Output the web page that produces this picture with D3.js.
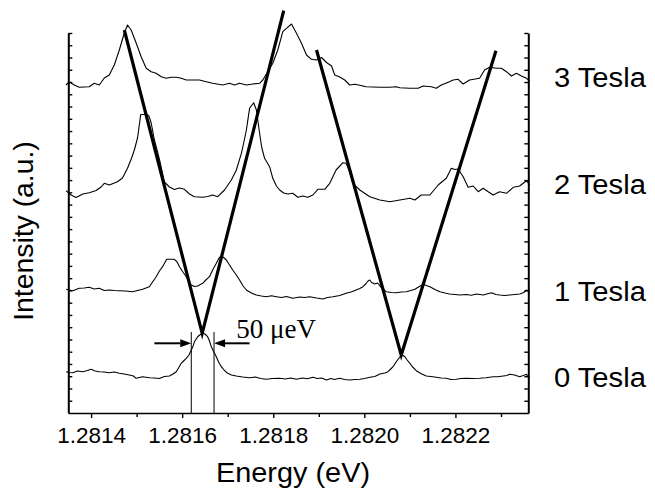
<!DOCTYPE html>
<html>
<head>
<meta charset="utf-8">
<script src="https://cdn.jsdelivr.net/npm/d3@7"></script>
<style>
  html, body { margin: 0; padding: 0; background: #fff; }
  svg { display: block; }
</style>
</head>
<body>
<svg id="chart" width="655" height="489"></svg>
<script>
// Photoluminescence spectra of a single dot at 0-3 T (energy in eV, intensity in a.u., curves stacked)
const fieldLabels = ["0 Tesla", "1 Tesla", "2 Tesla", "3 Tesla"];
const majorTicks = [1.2814, 1.2816, 1.2818, 1.2820, 1.2822];
const minorTicks = [1.2815, 1.2817, 1.2819, 1.2821, 1.2823];

const spectrum0T = [
  [1.281345,41.3],[1.281352,40.5],[1.281360,40.3],[1.281370,42],[1.281382,41.3],[1.281392,42.5],
  [1.281400,43.7],[1.281409,42],[1.281418,41.3],[1.281429,41],[1.281440,40.3],[1.281451,41],
  [1.281462,39.7],[1.281473,39],[1.281484,38],[1.281493,37],[1.281499,34.7],[1.281506,35.5],
  [1.281513,36.3],[1.281528,35.3],[1.281539,35],[1.281550,34.5],[1.281561,36.5],[1.281572,37],
  [1.281580,39],[1.281587,41.3],[1.281592,45],[1.281598,49.7],[1.281603,52],[1.281609,54.7],
  [1.281615,58],[1.281620,63],[1.281624,67],[1.281627,71.3],[1.281634,76.3],[1.281640,78.5],
  [1.281645,79.7],[1.281650,79],[1.281656,76.3],[1.281660,72],[1.281664,66.3],[1.281669,61.5],
  [1.281675,56.3],[1.281680,51],[1.281686,46.3],[1.281693,42.5],[1.281700,39.7],[1.281708,38],
  [1.281719,37],[1.281733,36],[1.281748,35.3],[1.281761,36],[1.281772,34.5],[1.281785,33.7],
  [1.281798,34.5],[1.281814,34.7],[1.281827,34],[1.281838,35],[1.281851,33.7],[1.281864,35],
  [1.281875,34.2],[1.281887,35.7],[1.281897,34.5],[1.281906,35],[1.281917,33],[1.281926,34.5],
  [1.281935,33.5],[1.281946,34.7],[1.281957,33.5],[1.281968,33],[1.281979,33.5],[1.281990,33.7],
  [1.282001,34.5],[1.282012,35.7],[1.282023,36.5],[1.282034,39],[1.282045,40],[1.282052,41.3],
  [1.282058,44],[1.282063,46.3],[1.282069,50.5],[1.282074,53.7],[1.282078,56],[1.282081,58],
  [1.282085,57.5],[1.282089,56.3],[1.282094,53],[1.282100,49.7],[1.282106,46],[1.282114,42.3],
  [1.282124,39.5],[1.282136,37],[1.282146,36.5],[1.282158,35.7],[1.282168,35],[1.282180,34.7],
  [1.282190,33.5],[1.282202,33.7],[1.282212,34.5],[1.282224,34.7],[1.282238,34.5],[1.282253,34.7],
  [1.282267,35.2],[1.282283,36.3],[1.282293,36.2],[1.282305,37],[1.282313,37.5],[1.282319,38.7],
  [1.282330,38],[1.282341,36.3],[1.282349,37.5],[1.282356,38.7],[1.282360,35.7],[1.282363,36.5]
];

const spectrum1T = [
  [1.281345,123.7],[1.281360,122.3],[1.281374,124.7],[1.281385,125],[1.281396,125.7],[1.281407,124],
  [1.281418,124.7],[1.281429,122.5],[1.281440,123],[1.281451,122.5],[1.281462,122.3],[1.281475,122],
  [1.281491,121.3],[1.281502,122.5],[1.281513,123.7],[1.281528,126.3],[1.281535,131],[1.281543,136.3],
  [1.281550,142],[1.281557,146.3],[1.281566,153.7],[1.281583,153.7],[1.281589,151],[1.281594,146.3],
  [1.281601,141.5],[1.281609,136.3],[1.281614,132],[1.281620,128],[1.281627,126.5],[1.281634,127],
  [1.281645,129.7],[1.281652,133],[1.281660,136.3],[1.281667,143],[1.281675,149.7],[1.281681,155],
  [1.281686,157],[1.281691,155.5],[1.281697,153],[1.281704,148],[1.281711,143],[1.281719,138],
  [1.281726,133],[1.281733,127.5],[1.281741,123],[1.281752,120],[1.281763,118],[1.281774,117],
  [1.281785,116.3],[1.281796,117.2],[1.281807,116.3],[1.281818,115.5],[1.281829,116.5],[1.281843,114.7],
  [1.281858,116],[1.281869,115.5],[1.281880,116.3],[1.281895,115],[1.281909,114],[1.281919,115.5],
  [1.281931,116.3],[1.281946,117.5],[1.281960,119.7],[1.281971,121],[1.281982,123],[1.281990,124.5],
  [1.281997,126.3],[1.282004,129.5],[1.282008,132],[1.282012,133],[1.282016,130.5],[1.282023,129],
  [1.282029,130],[1.282037,125.7],[1.282048,121.3],[1.282059,120.5],[1.282070,120.3],[1.282081,121],
  [1.282092,121.3],[1.282102,122.5],[1.282111,123.7],[1.282119,126],[1.282129,128.7],[1.282136,127.5],
  [1.282144,126.3],[1.282155,123.5],[1.282166,121.3],[1.282177,120],[1.282187,119],[1.282199,118.5],
  [1.282210,118],[1.282224,118.5],[1.282235,117.7],[1.282246,119],[1.282261,118],[1.282269,119],
  [1.282279,120.3],[1.282289,118.5],[1.282297,118],[1.282308,117.5],[1.282319,118],[1.282330,118.5],
  [1.282341,119],[1.282350,120.5],[1.282356,123],[1.282363,121.3]
];

const spectrum2T = [
  [1.281345,222.3],[1.281356,218],[1.281367,215.5],[1.281382,219],[1.281396,220.3],[1.281411,222.5],
  [1.281422,226],[1.281429,229.7],[1.281440,228],[1.281458,231.3],[1.281469,235],[1.281480,244.7],
  [1.281489,255],[1.281495,263],[1.281502,275],[1.281505,285],[1.281509,298.5],[1.281523,298.5],
  [1.281527,297],[1.281532,290],[1.281539,273],[1.281546,261],[1.281552,250],[1.281561,231],
  [1.281572,226],[1.281583,223.5],[1.281594,225],[1.281605,223.7],[1.281616,219],[1.281627,216.3],
  [1.281645,215.7],[1.281656,216.5],[1.281667,218],[1.281678,216.3],[1.281693,223],[1.281708,233],
  [1.281719,243],[1.281730,259.7],[1.281736,272],[1.281741,283],[1.281748,304.7],[1.281757,310.3],
  [1.281763,303],[1.281770,279.7],[1.281775,265],[1.281781,254.7],[1.281792,246.3],[1.281799,234.7],
  [1.281807,227],[1.281814,223],[1.281823,220],[1.281832,219],[1.281843,219.7],[1.281854,215.7],
  [1.281865,217],[1.281876,215.7],[1.281887,218],[1.281898,223.7],[1.281913,223.7],[1.281924,229.7],
  [1.281938,243],[1.281953,250.3],[1.281960,249.7],[1.281968,241],[1.281975,229.7],[1.281990,223],
  [1.282012,216.3],[1.282034,213],[1.282056,211.3],[1.282078,213],[1.282100,214.7],[1.282111,213],
  [1.282125,218],[1.282144,218],[1.282162,228],[1.282180,234.7],[1.282191,244.7],[1.282199,243.5],
  [1.282206,244],[1.282217,236.3],[1.282228,225.7],[1.282239,227],[1.282250,221.3],[1.282261,224.7],
  [1.282272,221.3],[1.282283,218],[1.282297,221.3],[1.282312,219.7],[1.282327,225.7],[1.282341,227],
  [1.282356,232.3],[1.282363,228]
];

const spectrum3T = [
  [1.281345,328],[1.281352,331.3],[1.281363,328],[1.281374,325.7],[1.281396,326.3],[1.281407,329.7],
  [1.281418,328],[1.281429,335],[1.281440,338],[1.281451,348],[1.281462,363],[1.281473,380],
  [1.281480,388],[1.281488,383],[1.281499,370],[1.281510,356.3],[1.281521,344.7],[1.281532,341.3],
  [1.281543,339.7],[1.281554,336.3],[1.281565,334.7],[1.281576,335.7],[1.281587,335.7],[1.281598,334.7],
  [1.281609,333],[1.281623,333],[1.281638,333],[1.281653,331.3],[1.281667,329.7],[1.281689,328],
  [1.281704,329.7],[1.281715,328],[1.281726,329.7],[1.281741,328],[1.281755,329],[1.281770,329.7],
  [1.281777,333],[1.281788,341.3],[1.281799,349.7],[1.281810,363],[1.281821,381.3],[1.281829,384.7],
  [1.281840,389],[1.281851,379.7],[1.281862,369.7],[1.281873,358],[1.281884,353.7],[1.281895,353],
  [1.281906,355.5],[1.281917,350.5],[1.281928,347],[1.281935,338],[1.281946,336],[1.281957,333],
  [1.281968,328],[1.281979,328.7],[1.281990,327.7],[1.282004,326.3],[1.282034,325.7],[1.282056,325.7],
  [1.282070,326.3],[1.282078,325.3],[1.282100,324.7],[1.282118,324.7],[1.282129,327],[1.282147,326.3],
  [1.282158,324.7],[1.282169,328],[1.282187,331.3],[1.282195,333],[1.282206,333.7],[1.282217,329],
  [1.282231,333],[1.282253,334.7],[1.282264,343],[1.282275,345.7],[1.282290,344.7],[1.282301,344.7],
  [1.282312,341.3],[1.282323,337],[1.282334,339.7],[1.282345,337],[1.282356,334.7],[1.282363,332]
];

// Zeeman splitting guides: each runs from a split peak through the 0 T line and back up
const splitGuideA = [[1.281473,383],[1.281644,79.7],[1.281823,402.3]];
const splitGuideB = [[1.281895,363],[1.282081,58],[1.282289,362.3]];

// Linewidth marker (50 μeV) on the 0 T line
const widthEdges = [1.28162, 1.28167];
const widthLevel = 69.7;
const widthArrowTails = [1.281539, 1.281748];
const widthLabel = "50 μeV";

const spectra = [spectrum0T, spectrum1T, spectrum2T, spectrum3T];

// ---- layout ----
const W = 655, H = 489;
const plot = { left: 68.3, right: 528.3, top: 33, bottom: 413 };
const labelBaselines = [387, 301, 194, 86.7];

const svg = d3.select("#chart");
svg.append("rect").attr("width", W).attr("height", H).attr("fill", "#fff");

const x = d3.scaleLinear().domain([1.28135, 1.28236]).range([plot.left, plot.right]);
const y = d3.scaleLinear().domain([0, 380]).range([plot.bottom, plot.top]);
const yTickValues = d3.range(1, 32).map(i => i * 380 / 31);

const sans = "'Liberation Sans', Arial, Helvetica, sans-serif";
const serif = "'Liberation Serif', 'Times New Roman', serif";

// bottom axis
svg.append("g").attr("transform", `translate(0,${plot.bottom})`)
  .call(d3.axisBottom(x).tickValues(majorTicks).tickFormat(d3.format(".4f")).tickSize(5).tickSizeOuter(0))
  .call(g => g.select(".domain").attr("stroke-width", 1.6))
  .call(g => g.selectAll(".tick line").attr("stroke-width", 1.4))
  .call(g => g.selectAll(".tick text").attr("font-family", sans).attr("font-size", 22.5)
    .attr("fill", "#000").attr("dy", null).attr("y", 29.7));
svg.append("g").attr("transform", `translate(0,${plot.bottom})`)
  .call(d3.axisBottom(x).tickValues(minorTicks).tickFormat("").tickSize(4).tickSizeOuter(0))
  .call(g => g.select(".domain").remove())
  .call(g => g.selectAll(".tick line").attr("stroke-width", 1.4));

// left and right axes (ticks pointing inward, no labels)
svg.append("g").attr("transform", `translate(${plot.left},0)`)
  .call(d3.axisRight(y).tickValues(yTickValues).tickFormat("").tickSize(4).tickSizeOuter(0))
  .call(g => g.select(".domain").attr("stroke-width", 2))
  .call(g => g.selectAll(".tick line").attr("stroke-width", 1.4));
svg.append("g").attr("transform", `translate(${plot.right},0)`)
  .call(d3.axisLeft(y).tickValues(yTickValues).tickFormat("").tickSize(4).tickSizeOuter(0))
  .call(g => g.select(".domain").attr("stroke-width", 2))
  .call(g => g.selectAll(".tick line").attr("stroke-width", 1.4));

// axis titles (slightly widened sans lettering)
svg.append("text").attr("transform", "translate(293,482) scale(1.07,1)").attr("text-anchor", "middle")
  .attr("font-family", sans).attr("font-size", 27).text("Energy (eV)");
svg.append("text").attr("transform", "translate(33,231) rotate(-90) scale(1.05,1)").attr("text-anchor", "middle")
  .attr("font-family", sans).attr("font-size", 27).text("Intensity (a.u.)");

// spectra
const line = d3.line().x(d => x(d[0])).y(d => y(d[1]));
svg.append("g").selectAll("path").data(spectra).join("path")
  .attr("d", line).attr("fill", "none").attr("stroke", "#000").attr("stroke-width", 1.1)
  .attr("stroke-linejoin", "round");

// field labels
svg.append("g").selectAll("text").data(fieldLabels).join("text")
  .attr("transform", (d, i) => `translate(554,${labelBaselines[i]}) scale(1.08,1)`)
  .attr("font-family", sans).attr("font-size", 27).text(d => d);

// splitting guides
svg.append("g").selectAll("path").data([splitGuideA, splitGuideB]).join("path")
  .attr("d", line).attr("fill", "none").attr("stroke", "#000").attr("stroke-width", 3.2)
  .attr("stroke-linejoin", "miter").attr("stroke-miterlimit", 20);

// linewidth marker
const marker = svg.append("g");
marker.selectAll("line.edge").data(widthEdges).join("line").attr("class", "edge")
  .attr("x1", d => x(d)).attr("x2", d => x(d))
  .attr("y1", y(81)).attr("y2", y(0))
  .attr("stroke", "#000").attr("stroke-width", 1);
const ay = y(widthLevel);
widthArrowTails.forEach((tail, i) => {
  const tip = x(widthEdges[i]);
  const dir = tip > x(tail) ? 1 : -1;
  const base = tip - dir * 11;
  marker.append("line").attr("x1", x(tail)).attr("x2", base).attr("y1", ay).attr("y2", ay)
    .attr("stroke", "#000").attr("stroke-width", 2);
  marker.append("path")
    .attr("d", `M${tip},${ay} L${base},${ay - 4} L${base},${ay + 4} Z`)
    .attr("fill", "#000");
});
marker.append("text").attr("x", x(1.281719)).attr("y", y(75.5))
  .attr("font-family", serif).attr("font-size", 27).text(widthLabel);
</script>
</body>
</html>
